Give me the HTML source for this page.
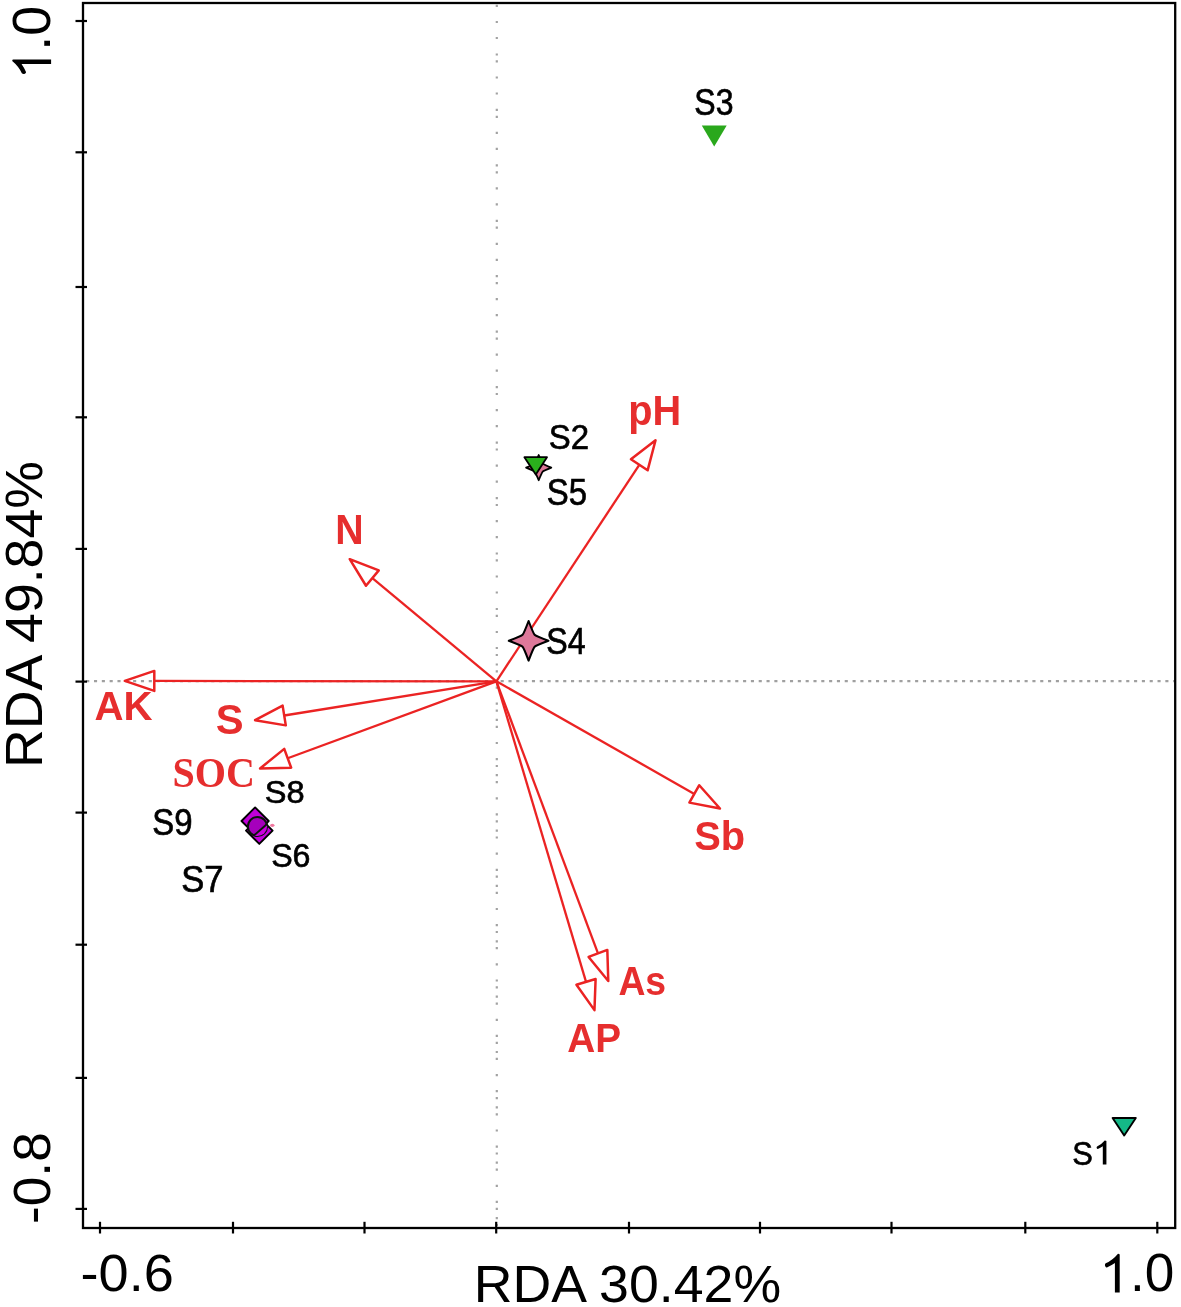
<!DOCTYPE html>
<html><head><meta charset="utf-8"><style>
html,body{margin:0;padding:0;background:#fff;}
svg{display:block;will-change:transform;}
</style></head><body>
<svg width="1181" height="1307" viewBox="0 0 1181 1307">
<rect width="1181" height="1307" fill="#fff"/>
<path d="M495.7,4.8h2.2v2.2h-2.2zM495.7,20.9h2.2v2.2h-2.2zM495.7,36.9h2.2v2.2h-2.2zM495.7,53.4h2.2v2.2h-2.2zM495.7,60.2h2.2v2.2h-2.2zM495.7,76.4h2.2v2.2h-2.2zM495.7,92.4h2.2v2.2h-2.2zM495.7,108.8h2.2v2.2h-2.2zM495.7,115.7h2.2v2.2h-2.2zM495.7,131.8h2.2v2.2h-2.2zM495.7,147.8h2.2v2.2h-2.2zM495.7,164.3h2.2v2.2h-2.2zM495.7,171.2h2.2v2.2h-2.2zM495.7,187.3h2.2v2.2h-2.2zM495.7,203.3h2.2v2.2h-2.2zM495.7,219.7h2.2v2.2h-2.2zM495.7,226.6h2.2v2.2h-2.2zM495.7,242.7h2.2v2.2h-2.2zM495.7,258.7h2.2v2.2h-2.2zM495.7,275.1h2.2v2.2h-2.2zM495.7,282.0h2.2v2.2h-2.2zM495.7,298.1h2.2v2.2h-2.2zM495.7,314.1h2.2v2.2h-2.2zM495.7,330.6h2.2v2.2h-2.2zM495.7,337.5h2.2v2.2h-2.2zM495.7,353.6h2.2v2.2h-2.2zM495.7,369.6h2.2v2.2h-2.2zM495.7,386.0h2.2v2.2h-2.2zM495.7,392.9h2.2v2.2h-2.2zM495.7,409.0h2.2v2.2h-2.2zM495.7,425.0h2.2v2.2h-2.2zM495.7,441.5h2.2v2.2h-2.2zM495.7,448.4h2.2v2.2h-2.2zM495.7,464.5h2.2v2.2h-2.2zM495.7,480.5h2.2v2.2h-2.2zM495.7,497.0h2.2v2.2h-2.2zM495.7,503.9h2.2v2.2h-2.2zM495.7,520.0h2.2v2.2h-2.2zM495.7,536.0h2.2v2.2h-2.2zM495.7,552.4h2.2v2.2h-2.2zM495.7,559.3h2.2v2.2h-2.2zM495.7,575.4h2.2v2.2h-2.2zM495.7,591.4h2.2v2.2h-2.2zM495.7,607.9h2.2v2.2h-2.2zM495.7,614.8h2.2v2.2h-2.2zM495.7,630.9h2.2v2.2h-2.2zM495.7,646.9h2.2v2.2h-2.2zM495.7,653.9h2.2v2.2h-2.2zM495.7,663.4h2.2v2.2h-2.2zM495.7,670.3h2.2v2.2h-2.2zM495.7,686.5h2.2v2.2h-2.2zM495.7,702.6h2.2v2.2h-2.2zM495.7,709.5h2.2v2.2h-2.2zM495.7,718.8h2.2v2.2h-2.2zM495.7,725.7h2.2v2.2h-2.2zM495.7,741.9h2.2v2.2h-2.2zM495.7,758.0h2.2v2.2h-2.2zM495.7,764.9h2.2v2.2h-2.2zM495.7,774.1h2.2v2.2h-2.2zM495.7,781.0h2.2v2.2h-2.2zM495.7,797.2h2.2v2.2h-2.2zM495.7,813.3h2.2v2.2h-2.2zM495.7,820.2h2.2v2.2h-2.2zM495.7,829.5h2.2v2.2h-2.2zM495.7,836.4h2.2v2.2h-2.2zM495.7,852.6h2.2v2.2h-2.2zM495.7,868.7h2.2v2.2h-2.2zM495.7,875.6h2.2v2.2h-2.2zM495.7,884.8h2.2v2.2h-2.2zM495.7,891.7h2.2v2.2h-2.2zM495.7,907.9h2.2v2.2h-2.2zM495.7,924.0h2.2v2.2h-2.2zM495.7,930.9h2.2v2.2h-2.2zM495.7,940.2h2.2v2.2h-2.2zM495.7,947.1h2.2v2.2h-2.2zM495.7,963.3h2.2v2.2h-2.2zM495.7,979.4h2.2v2.2h-2.2zM495.7,986.3h2.2v2.2h-2.2zM495.7,995.6h2.2v2.2h-2.2zM495.7,1002.5h2.2v2.2h-2.2zM495.7,1018.7h2.2v2.2h-2.2zM495.7,1034.8h2.2v2.2h-2.2zM495.7,1041.7h2.2v2.2h-2.2zM495.7,1050.9h2.2v2.2h-2.2zM495.7,1057.8h2.2v2.2h-2.2zM495.7,1074.0h2.2v2.2h-2.2zM495.7,1090.1h2.2v2.2h-2.2zM495.7,1097.0h2.2v2.2h-2.2zM495.7,1106.3h2.2v2.2h-2.2zM495.7,1113.2h2.2v2.2h-2.2zM495.7,1129.4h2.2v2.2h-2.2zM495.7,1145.5h2.2v2.2h-2.2zM495.7,1152.4h2.2v2.2h-2.2zM495.7,1161.6h2.2v2.2h-2.2zM495.7,1168.5h2.2v2.2h-2.2zM495.7,1184.7h2.2v2.2h-2.2zM495.7,1200.8h2.2v2.2h-2.2zM495.7,1207.7h2.2v2.2h-2.2zM495.7,1217.0h2.2v2.2h-2.2zM495.7,1223.9h2.2v2.2h-2.2z" fill="#a2a2a2"/>
<line x1="86.18" y1="681.2" x2="1174" y2="681.2" stroke="#a0a0a0" stroke-width="2.3" stroke-dasharray="3.1 4.72"/>
<rect x="83" y="3" width="1092.2" height="1225" fill="none" stroke="#000" stroke-width="2.3"/>
<line x1="100" y1="1221.8" x2="100" y2="1233.5" stroke="#000" stroke-width="2.2"/>
<line x1="233" y1="1221.8" x2="233" y2="1233.5" stroke="#000" stroke-width="2.2"/>
<line x1="364.5" y1="1221.8" x2="364.5" y2="1233.5" stroke="#000" stroke-width="2.2"/>
<line x1="496.2" y1="1221.8" x2="496.2" y2="1233.5" stroke="#000" stroke-width="2.2"/>
<line x1="629" y1="1221.8" x2="629" y2="1233.5" stroke="#000" stroke-width="2.2"/>
<line x1="760" y1="1221.8" x2="760" y2="1233.5" stroke="#000" stroke-width="2.2"/>
<line x1="891.5" y1="1221.8" x2="891.5" y2="1233.5" stroke="#000" stroke-width="2.2"/>
<line x1="1025.3" y1="1221.8" x2="1025.3" y2="1233.5" stroke="#000" stroke-width="2.2"/>
<line x1="1157.3" y1="1221.8" x2="1157.3" y2="1233.5" stroke="#000" stroke-width="2.2"/>
<line x1="75.5" y1="21" x2="87" y2="21" stroke="#000" stroke-width="2.2"/>
<line x1="75.5" y1="152.3" x2="87" y2="152.3" stroke="#000" stroke-width="2.2"/>
<line x1="75.5" y1="287" x2="87" y2="287" stroke="#000" stroke-width="2.2"/>
<line x1="75.5" y1="417.3" x2="87" y2="417.3" stroke="#000" stroke-width="2.2"/>
<line x1="75.5" y1="548.9" x2="87" y2="548.9" stroke="#000" stroke-width="2.2"/>
<line x1="75.5" y1="681.6" x2="87" y2="681.6" stroke="#000" stroke-width="2.2"/>
<line x1="75.5" y1="812.6" x2="87" y2="812.6" stroke="#000" stroke-width="2.2"/>
<line x1="75.5" y1="944.7" x2="87" y2="944.7" stroke="#000" stroke-width="2.2"/>
<line x1="75.5" y1="1077.9" x2="87" y2="1077.9" stroke="#000" stroke-width="2.2"/>
<line x1="75.5" y1="1208.9" x2="87" y2="1208.9" stroke="#000" stroke-width="2.2"/>
<line x1="496.4" y1="681.3" x2="639.29" y2="464.82" stroke="#eb2323" stroke-width="2.3"/>
<path d="M655.54,440.20 L647.63,470.33 L630.94,459.31 Z" fill="none" stroke="#eb2323" stroke-width="2.5" stroke-linejoin="round"/>
<line x1="496.4" y1="681.3" x2="372.39" y2="578.04" stroke="#eb2323" stroke-width="2.3"/>
<path d="M349.72,559.17 L378.79,570.36 L365.99,585.73 Z" fill="none" stroke="#eb2323" stroke-width="2.5" stroke-linejoin="round"/>
<line x1="496.4" y1="681.3" x2="154.30" y2="680.93" stroke="#eb2323" stroke-width="2.3"/>
<path d="M124.80,680.90 L154.31,670.93 L154.29,690.93 Z" fill="none" stroke="#eb2323" stroke-width="2.5" stroke-linejoin="round"/>
<line x1="496.4" y1="681.3" x2="284.21" y2="715.51" stroke="#eb2323" stroke-width="2.3"/>
<path d="M255.08,720.21 L282.62,705.64 L285.80,725.39 Z" fill="none" stroke="#eb2323" stroke-width="2.5" stroke-linejoin="round"/>
<line x1="496.4" y1="681.3" x2="287.70" y2="758.28" stroke="#eb2323" stroke-width="2.3"/>
<path d="M260.03,768.48 L284.24,748.89 L291.16,767.66 Z" fill="none" stroke="#eb2323" stroke-width="2.5" stroke-linejoin="round"/>
<line x1="496.4" y1="681.3" x2="694.32" y2="793.92" stroke="#eb2323" stroke-width="2.3"/>
<path d="M719.96,808.51 L689.37,802.61 L699.26,785.23 Z" fill="none" stroke="#eb2323" stroke-width="2.5" stroke-linejoin="round"/>
<line x1="496.4" y1="681.3" x2="597.97" y2="953.44" stroke="#eb2323" stroke-width="2.3"/>
<path d="M608.28,981.08 L588.60,956.93 L607.33,949.94 Z" fill="none" stroke="#eb2323" stroke-width="2.5" stroke-linejoin="round"/>
<line x1="496.4" y1="681.3" x2="586.03" y2="981.88" stroke="#eb2323" stroke-width="2.3"/>
<path d="M594.46,1010.15 L576.44,984.74 L595.61,979.02 Z" fill="none" stroke="#eb2323" stroke-width="2.5" stroke-linejoin="round"/>
<path d="M701.8,125.5 L726.7,125.5 L714.2,146.6 Z" fill="#2aa81c" />
<path d="M538.7,455.0 Q541.9000000000001,462.8 542.7,463.6 Q543.5,464.40000000000003 551.3000000000001,467.6 Q543.5,470.8 542.7,471.6 Q541.9000000000001,472.40000000000003 538.7,480.20000000000005 Q535.5,472.40000000000003 534.7,471.6 Q533.9000000000001,470.8 526.1,467.6 Q533.9000000000001,464.40000000000003 534.7,463.6 Q535.5,462.8 538.7,455.0 Z" fill="#dc7896" stroke="#000" stroke-width="1.8" stroke-linejoin="round"/>
<path d="M524.4,457.2 L547.0,457.2 L535.8,474.6 Z" fill="#2ab01c" stroke="#000" stroke-width="1.8" stroke-linejoin="round"/>
<path d="M528.6,621.0 Q533.4,633.5999999999999 534.6,634.8 Q535.8000000000001,636.0 548.4,640.8 Q535.8000000000001,645.5999999999999 534.6,646.8 Q533.4,648.0 528.6,660.5999999999999 Q523.8000000000001,648.0 522.6,646.8 Q521.4,645.5999999999999 508.8,640.8 Q521.4,636.0 522.6,634.8 Q523.8000000000001,633.5999999999999 528.6,621.0 Z" fill="#de789a" stroke="#000" stroke-width="2.1" stroke-linejoin="round"/>
<path d="M1112.6,1118.0 L1135.8,1118.0 L1124.2,1135.6 Z" fill="#14b887" stroke="#000" stroke-width="1.9" stroke-linejoin="round"/>
<path transform="translate(1114.9,1292.4) scale(38.7)" d="M0,0 L0.124,0 L0.124,-0.97 Q0.124,-1 0.08,-1 Q-0.06,-0.83 -0.238,-0.752 Q-0.27,-0.72 -0.25,-0.675 Q-0.23,-0.64 -0.206,-0.645 Q-0.1,-0.69 0,-0.76 Z" fill="#000"/>
<path transform="translate(51.1,64.0) rotate(-90) scale(38.9)" d="M0,0 L0.115,0 L0.115,-0.97 Q0.115,-1 0.08,-1 Q-0.06,-0.83 -0.238,-0.752 Q-0.27,-0.72 -0.25,-0.675 Q-0.23,-0.64 -0.206,-0.645 Q-0.1,-0.69 0,-0.76 Z" fill="#000"/>
<path transform="translate(1102.8,1164.5) scale(24.1)" d="M0,0 L0.150,0 L0.150,-0.97 Q0.150,-1 0.08,-1 Q-0.06,-0.83 -0.238,-0.752 Q-0.27,-0.72 -0.25,-0.675 Q-0.23,-0.64 -0.206,-0.645 Q-0.1,-0.69 0,-0.76 Z" fill="#000"/>
<ellipse cx="272.3" cy="825.3" rx="2.2" ry="1.6" fill="#f07aa0"/>
<path d="M259.3,817.3000000000001 L272.6,830.6 L259.3,843.9 L246.0,830.6 Z" fill="#c400dc" stroke="#000" stroke-width="1.9" stroke-linejoin="round"/>
<path d="M255.1,807.4 L268.7,821.0 L255.1,834.6 L241.5,821.0 Z" fill="#c000d8" stroke="#000" stroke-width="1.9" stroke-linejoin="round"/>
<clipPath id="cc"><circle cx="257.5" cy="826.5" r="9.6"/></clipPath>
<circle cx="257.5" cy="826.5" r="9.6" fill="#a600bc" stroke="#0a140a" stroke-width="2"/>
<g clip-path="url(#cc)"><path d="M240,850 L270,820 L280,850 Z" fill="#cc00e0"/></g>
<line x1="267.6" y1="823.5" x2="253.9" y2="835.6" stroke="#0a140a" stroke-width="2"/>
<text transform="translate(694.32,115.24) scale(0.8883,1)" font-family="Liberation Sans" font-weight="normal" font-size="36.07" fill="#000" stroke="#000" stroke-width="0.65">S3</text>
<text transform="translate(548.68,449.35) scale(0.9368,1)" font-family="Liberation Sans" font-weight="normal" font-size="35.18" fill="#000" stroke="#000" stroke-width="0.65">S2</text>
<text transform="translate(546.67,505.00) scale(0.9136,1)" font-family="Liberation Sans" font-weight="normal" font-size="36.07" fill="#000" stroke="#000" stroke-width="0.65">S5</text>
<text transform="translate(546.35,654.06) scale(0.8919,1)" font-family="Liberation Sans" font-weight="normal" font-size="36.07" fill="#000" stroke="#000" stroke-width="0.65">S4</text>
<text transform="translate(264.72,803.21) scale(1.0132,1)" font-family="Liberation Sans" font-weight="normal" font-size="32.14" fill="#000" stroke="#000" stroke-width="0.65">S8</text>
<text transform="translate(152.28,835.21) scale(0.9130,1)" font-family="Liberation Sans" font-weight="normal" font-size="36.07" fill="#000" stroke="#000" stroke-width="0.65">S9</text>
<text transform="translate(271.16,867.15) scale(0.9452,1)" font-family="Liberation Sans" font-weight="normal" font-size="34.05" fill="#000" stroke="#000" stroke-width="0.65">S6</text>
<text transform="translate(181.22,892.06) scale(0.9600,1)" font-family="Liberation Sans" font-weight="normal" font-size="36.07" fill="#000" stroke="#000" stroke-width="0.65">S7</text>
<text transform="translate(1072.35,1164.51) scale(0.9116,1)" font-family="Liberation Sans" font-weight="normal" font-size="33.88" fill="#000" stroke="#000" stroke-width="0.65">S</text>
<text transform="translate(628.22,424.89) scale(0.9419,1)" font-family="Liberation Sans" font-weight="bold" font-size="42.16" fill="#e62e2e">pH</text>
<text transform="translate(335.22,543.61) scale(0.9178,1)" font-family="Liberation Sans" font-weight="bold" font-size="42.82" fill="#e62e2e">N</text>
<text transform="translate(94.54,720.40) scale(0.9779,1)" font-family="Liberation Sans" font-weight="bold" font-size="41.13" fill="#e62e2e">AK</text>
<text transform="translate(215.81,733.70) scale(1.0001,1)" font-family="Liberation Sans" font-weight="bold" font-size="41.72" fill="#e62e2e">S</text>
<text transform="translate(172.47,787.21) scale(0.9725,1)" font-family="Liberation Serif" font-weight="bold" font-size="41.26" fill="#e62e2e">SOC</text>
<text transform="translate(694.27,850.39) scale(0.9818,1)" font-family="Liberation Sans" font-weight="bold" font-size="40.57" fill="#e62e2e">Sb</text>
<text transform="translate(618.39,994.91) scale(0.9086,1)" font-family="Liberation Sans" font-weight="bold" font-size="41.13" fill="#e62e2e">As</text>
<text transform="translate(567.18,1051.77) scale(0.9415,1)" font-family="Liberation Sans" font-weight="bold" font-size="41.13" fill="#e62e2e">AP</text>
<text transform="translate(80.58,1290.94) scale(1.0295,1)" font-family="Liberation Sans" font-weight="normal" font-size="52.56" fill="#000">-0.6</text>
<text transform="translate(1129.92,1291.19) scale(1.0000,1)" font-family="Liberation Sans" font-weight="normal" font-size="53.11" fill="#000">.0</text>
<text transform="translate(473.85,1301.90) scale(1.0267,1)" font-family="Liberation Sans" font-weight="normal" font-size="52.27" fill="#000">RDA 30.42%</text>
<text transform="translate(41.60,768.00) rotate(-90) scale(1.0200,1)" font-family="Liberation Sans" font-weight="normal" font-size="52.56" fill="#000">RDA 49.84%</text>
<text transform="translate(50.31,50.82) rotate(-90) scale(1.0013,1)" font-family="Liberation Sans" font-weight="normal" font-size="53.77" fill="#000">.0</text>
<text transform="translate(50.02,1224.01) rotate(-90) scale(1.0278,1)" font-family="Liberation Sans" font-weight="normal" font-size="51.85" fill="#000">-0.8</text>
</svg>
</body></html>
